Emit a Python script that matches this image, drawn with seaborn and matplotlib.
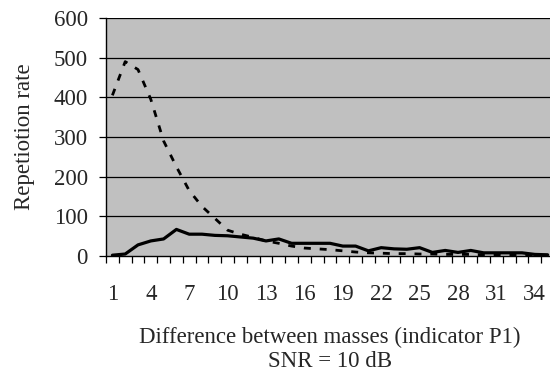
import matplotlib
matplotlib.use("Agg")
import matplotlib.pyplot as plt
import seaborn as sns
import pandas as pd

# Mass difference categories (indicator P1)
categories = list(range(1, 36))

# Repetition rate per category
dashed_series = [405, 490, 470, 395, 290, 225, 165, 125, 95, 65,
                 55, 47, 38, 32, 25, 20, 18, 16, 13, 10,
                 8, 7, 6, 6, 5, 5, 4, 4, 4, 3,
                 3, 2, 2, 2, 2]
solid_series = [2, 5, 28, 38, 43, 67, 55, 55, 52, 51,
                48, 45, 38, 43, 32, 32, 32, 32, 25, 25,
                13, 21, 18, 17, 21, 9, 14, 9, 14, 8,
                8, 8, 8, 4, 3]

y_ticks = [0, 100, 200, 300, 400, 500, 600]
x_tick_labels = [1, 4, 7, 10, 13, 16, 19, 22, 25, 28, 31, 34]

df = pd.DataFrame({
    "category": categories,
    "dashed": dashed_series,
    "solid": solid_series,
})

sns.set_theme(style="white")
plt.rcParams["font.family"] = ["Liberation Serif", "DejaVu Serif"]
FS = 16.5

fig = plt.figure(figsize=(5.5, 3.82), dpi=100)
ax = fig.add_axes([106 / 550, 126 / 382, 448 / 550, 238 / 382])
ax.set_facecolor("#C0C0C0")

for y in y_ticks[1:]:
    ax.axhline(y, color="black", lw=0.9, zorder=1)

sns.lineplot(data=df, x="category", y="dashed", ax=ax, color="black",
             lw=2.0, zorder=3)
ax.lines[-1].set_dashes([2.5, 3.2])
sns.lineplot(data=df, x="category", y="solid", ax=ax, color="black",
             lw=2.3, zorder=4)

ax.set_xlim(0.5, 35.5)
ax.set_ylim(0, 600)
ax.set_yticks(y_ticks)
ax.set_yticklabels([str(v) for v in y_ticks], fontsize=FS)

# Tick marks sit on category boundaries; labels on every third category
ax.set_xticks([c + 0.5 for c in range(0, 35)], minor=False)
ax.set_xticklabels([])
ax.set_xticks(x_tick_labels, minor=True)
ax.set_xticklabels([str(v) for v in x_tick_labels], minor=True, fontsize=FS)
ax.tick_params(axis="x", which="major", direction="out", length=5,
               width=0.9, color="black", bottom=True)
ax.tick_params(axis="x", which="minor", length=0, pad=20, bottom=True)
ax.tick_params(axis="y", direction="out", length=5, width=0.9,
               color="black", left=True, pad=8)

for side in ["top", "right"]:
    ax.spines[side].set_visible(False)
for side in ["left", "bottom"]:
    ax.spines[side].set_color("black")
    ax.spines[side].set_linewidth(1.0)

ax.set_xlabel("Difference between masses (indicator P1)\nSNR = 10 dB",
              fontsize=FS, linespacing=1.2)
ax.set_ylabel("Repetiotion rate", fontsize=FS)
ax.xaxis.set_label_coords(0.5, -(327 - 256) / 238)
ax.yaxis.set_label_coords((35 - 106) / 448, 0.5)

fig.savefig("out.png", dpi=100)
